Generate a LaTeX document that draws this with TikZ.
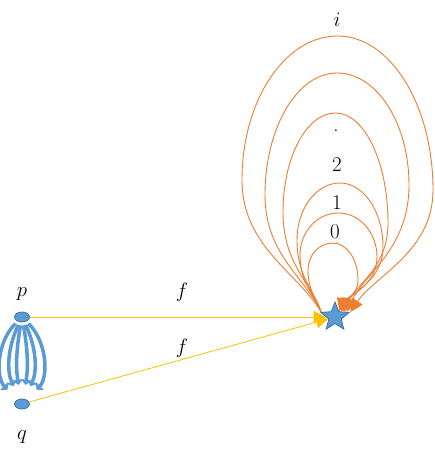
\documentclass[tikz,border=0pt]{standalone}
\usetikzlibrary{shapes.geometric,arrows.meta}
\definecolor{lineblue}{HTML}{5B9BD5}
\definecolor{edgeblue}{HTML}{41719C}
\definecolor{loopor}{HTML}{ED7D31}
\definecolor{fyellow}{HTML}{FFC000}
\tikzset{
  dot/.style={ellipse, fill=lineblue, draw=edgeblue, line width=0.8pt, minimum width=15pt, minimum height=10pt, inner sep=0pt},
  hubstar/.style={star, star points=5, star point ratio=2.3, fill=lineblue, draw=edgeblue, line width=0.8pt, minimum size=30pt, inner sep=0pt},
  lbl/.style={font=\fontsize{21}{25}\selectfont, inner sep=0pt},
  orbit/.style={loopor, line width=0.9pt, -{Triangle[length=13pt,width=12pt]}},
  fmap/.style={fyellow, line width=0.8pt, -{Triangle[length=12pt,width=12pt]}},
  cord/.style={lineblue, line width=3.5pt, -{Triangle[length=5pt,width=11pt]}, shorten <=3pt, shorten >=14pt}
}
\begin{document}
\begin{tikzpicture}[x=1pt, y=-1pt]
    \useasboundingbox (0,0) rectangle (434,454);

    % Points
    \node[dot] (p) at (22,317) {};
    \node[dot] (q) at (22,404) {};
    \node[hubstar] (hub) at (335,317) {};

    % Labels
    \node[lbl] (plbl) at (22,294) {$p$};
    \node[lbl] (qlbl) at (22,437) {$q$};
    \node[lbl] (f1) at (182,292) {$f$};
    \node[lbl] (f2) at (182,348) {$f$};
    \node[lbl] (li) at (337,20) {$i$};
    \node[lbl] (ldot) at (336,131) {.};
    \node[lbl] (l2) at (337,165) {2};
    \node[lbl] (l1) at (337,203) {1};
    \node[lbl] (l0) at (335,232) {0};

    % Paths from p to q
    \foreach \b in {-45,-25,-10,10,25,45} {
        \draw[cord] (p) to[bend left=\b] (q);
    }

    % Maps into the star
    \draw[fmap] (p) -- (hub);
    \draw[fmap] (q) -- (hub);

    % Loops
    \foreach \L/\R/\T/\ym/\yr/\a in {242/433/36/180/190/18, 265/409/73/195/185/24,
        283/388/113/212/223/30, 297/383/183/240/247/36, 300/377/213/255/257/42, 308/358/243/270/280/52} {
        \pgfmathsetmacro{\cx}{(\L+\R)/2}
        \pgfmathsetmacro{\ax}{0.3*(321-\L)}
        \pgfmathsetmacro{\ay}{0.3*(313-\ym)}
        \pgfmathsetmacro{\ad}{0.5*(313-\ym)}
        \pgfmathsetmacro{\lu}{0.552*(\ym-\T)}
        \pgfmathsetmacro{\lw}{0.552*(\cx-\L)}
        \pgfmathsetmacro{\rw}{0.552*(\R-\cx)}
        \pgfmathsetmacro{\ru}{0.552*(\yr-\T)}
        \pgfmathsetmacro{\rd}{0.5*(313-\yr)}
        \pgfmathsetmacro{\bx}{0.3*(\R-349)}
        \pgfmathsetmacro{\by}{0.3*(313-\yr)}
        \draw[orbit] (hub.160) .. controls +(-\ax,-\ay) and +(0,\ad) .. (\L,\ym)
            .. controls +(0,-\lu) and +(-\lw,0) .. (\cx,\T)
            .. controls +(\rw,0) and +(0,-\ru) .. (\R,\yr)
            .. controls +(0,\rd) and +(\bx,-\by) .. (hub.\a);
    }
\end{tikzpicture}
\end{document}
